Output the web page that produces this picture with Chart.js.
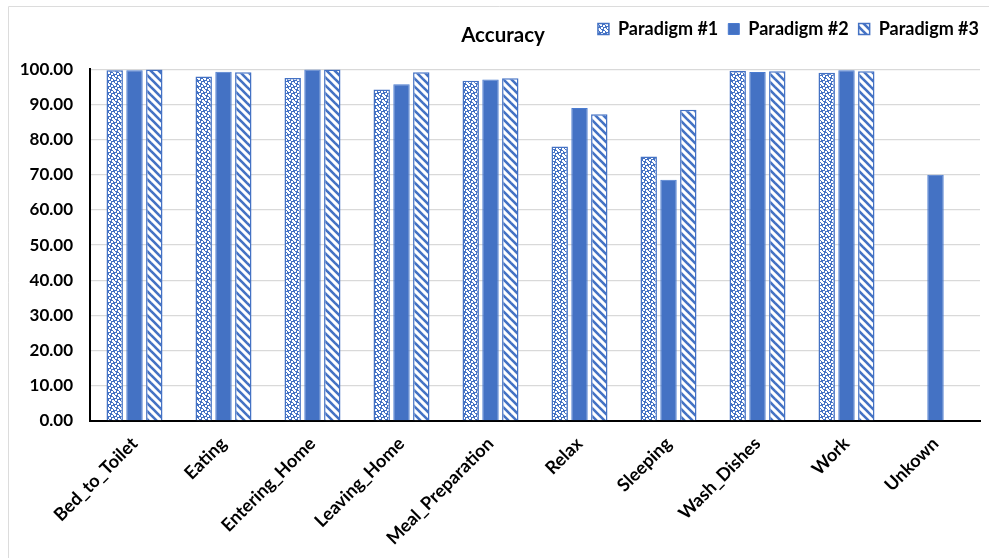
<!DOCTYPE html>
<html>
<head>
<meta charset="utf-8">
<script src="https://cdn.jsdelivr.net/npm/chart.js@4/dist/chart.umd.min.js"></script>
<style>
  html, body { margin: 0; padding: 0; background: #fff; }
  #wrap { width: 989px; height: 558px; }
</style>
</head>
<body>
<div id="wrap"><canvas id="chart" width="989" height="558"></canvas></div>
<script>
// data
const categories = ['Bed_to_Toilet', 'Eating', 'Entering_Home', 'Leaving_Home', 'Meal_Preparation',
  'Relax', 'Sleeping', 'Wash_Dishes', 'Work', 'Unkown'];
const seriesNames = ['Paradigm #1', 'Paradigm #2', 'Paradigm #3'];
const paradigm1 = [99.7, 97.9, 97.5, 94.2, 96.7, 78.0, 75.2, 99.5, 99.0, null];
const paradigm2 = [99.7, 99.3, 99.9, 95.7, 97.1, 89.0, 68.6, 99.2, 99.7, 70.0];
const paradigm3 = [99.9, 99.1, 99.9, 99.1, 97.4, 87.2, 88.5, 99.4, 99.4, null];
const yTicks = [0, 10, 20, 30, 40, 50, 60, 70, 80, 90, 100];

const BLUE = '#4472C4';
const FONT = 'Lato, "Open Sans", sans-serif';

// dotted fill for paradigm #1
function dotPattern() {
  const c = document.createElement('canvas');
  c.width = 6; c.height = 6;
  const g = c.getContext('2d');
  g.fillStyle = BLUE;
  g.fillRect(0, 0, 6, 6);
  g.fillStyle = '#fff';
  [[0,0],[3,1],[1,3],[4,4]].forEach(p => g.fillRect(p[0], p[1], 2, 2));
  g.fillRect(5, 0, 1, 1);
  g.fillRect(0, 5, 1, 1);
  return g.createPattern(c, 'repeat');
}

// diagonal "\" stripes for paradigm #3
function stripePattern() {
  const c = document.createElement('canvas');
  c.width = 8; c.height = 8;
  const g = c.getContext('2d');
  g.fillStyle = '#fff';
  g.fillRect(0, 0, 8, 8);
  g.strokeStyle = BLUE;
  g.lineWidth = 2.6;
  for (const k of [-8, 0, 8]) {
    g.beginPath();
    g.moveTo(k - 1, -1);
    g.lineTo(k + 9, 9);
    g.stroke();
  }
  return g.createPattern(c, 'repeat');
}

// chart frame + title on the legend row
const extras = {
  id: 'extras',
  afterDraw(chart) {
    const ctx = chart.ctx;
    ctx.save();
    ctx.strokeStyle = '#dcdcdc';
    ctx.lineWidth = 1;
    ctx.beginPath();
    ctx.moveTo(8.5, 600);
    ctx.lineTo(8.5, 6.5);
    ctx.lineTo(1000, 6.5);
    ctx.stroke();
    ctx.fillStyle = '#000';
    ctx.font = 'bold 20.5px ' + FONT;
    ctx.textAlign = 'center';
    ctx.textBaseline = 'middle';
    ctx.fillText('Accuracy', 503, 35);
    ctx.restore();
  }
};

new Chart(document.getElementById('chart'), {
  type: 'bar',
  data: {
    labels: categories,
    datasets: [
      { label: seriesNames[0], data: paradigm1, backgroundColor: dotPattern(), borderColor: BLUE, borderWidth: 1.5 },
      { label: seriesNames[1], data: paradigm2, backgroundColor: BLUE, borderColor: '#4a7bd0', borderWidth: 1 },
      { label: seriesNames[2], data: paradigm3, backgroundColor: stripePattern(), borderColor: BLUE, borderWidth: 1.5 }
    ]
  },
  options: {
    responsive: false,
    animation: false,
    categoryPercentage: 0.667,
    barPercentage: 0.83,
    layout: { padding: { top: 10, left: 8, right: 0, bottom: 0 } },
    plugins: {
      legend: {
        position: 'top',
        align: 'end',
        labels: {
          boxWidth: 11,
          boxHeight: 11,
          padding: 10,
          color: '#000',
          font: { family: FONT, size: 18, weight: 'bold' }
        }
      },
      // empty title used only as a spacer under the legend
      title: {
        display: true,
        text: ' ',
        weight: 500,
        font: { size: 1 },
        padding: { top: 10, bottom: 10 }
      },
      tooltip: { enabled: false }
    },
    scales: {
      x: {
        grid: { display: false },
        border: { display: true, color: '#000', width: 2 },
        ticks: {
          color: '#000',
          maxRotation: 45,
          minRotation: 45,
          padding: 4,
          font: { family: FONT, size: 18, weight: 'bold' }
        },
        afterFit(scale) { scale.height = 137; }
      },
      y: {
        min: 0,
        max: 100,
        afterBuildTicks(scale) { scale.ticks = yTicks.map(v => ({ value: v })); },
        grid: { color: '#d9d9d9', lineWidth: 1.3, drawTicks: false },
        border: { display: true, color: '#000', width: 2 },
        ticks: {
          color: '#000',
          padding: 17,
          font: { family: FONT, size: 17, weight: 'bold' },
          callback: v => v.toFixed(2)
        },
        afterFit(scale) { scale.width = 82; }
      },
      // blank right margin so the plot ends where the reference does
      pad: {
        position: 'right',
        display: true,
        grid: { display: false },
        border: { display: false },
        ticks: { display: false },
        afterFit(scale) { scale.width = 9; }
      }
    }
  },
  plugins: [extras]
});
</script>
</body>
</html>
